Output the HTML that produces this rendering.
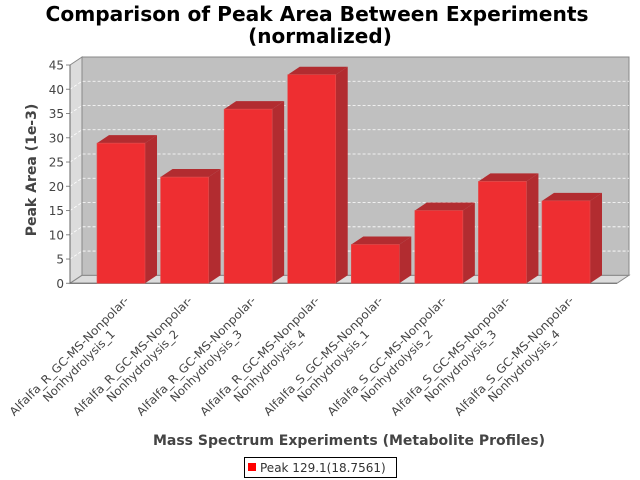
<!DOCTYPE html>
<html><head><meta charset="utf-8"><style>
html,body{margin:0;padding:0;background:#fff}
svg{display:block}
text{font-family:"DejaVu Sans","Liberation Sans",sans-serif}
</style></head><body>
<svg id="chart" width="640" height="480" viewBox="0 0 640 480" xmlns="http://www.w3.org/2000/svg">
<text x="317" y="21" text-anchor="middle" font-weight="bold" font-size="20" textLength="543" lengthAdjust="spacingAndGlyphs" fill="#000">Comparison of Peak Area Between Experiments</text>
<text x="320" y="43" text-anchor="middle" font-weight="bold" font-size="20" fill="#000">(normalized)</text>
<g id="plot"></g>
<text transform="translate(36,170) rotate(-90)" text-anchor="middle" font-weight="bold" font-size="14" fill="#444">Peak Area (1e-3)</text>
<text x="349" y="445" text-anchor="middle" font-weight="bold" font-size="14" fill="#444">Mass Spectrum Experiments (Metabolite Profiles)</text>
<g>
<rect x="244.5" y="457.5" width="152" height="20" fill="#fff" stroke="#000"/>
<rect x="248" y="463" width="8" height="8" fill="#ff0000"/>
<text x="260" y="472" font-size="12" fill="#333">Peak 129.1(18.7561)</text>
</g>
</svg>
<script>
const categoriesLine1 = ["Alfalfa_R_GC-MS-Nonpolar-","Alfalfa_R_GC-MS-Nonpolar-","Alfalfa_R_GC-MS-Nonpolar-","Alfalfa_R_GC-MS-Nonpolar-","Alfalfa_S_GC-MS-Nonpolar-","Alfalfa_S_GC-MS-Nonpolar-","Alfalfa_S_GC-MS-Nonpolar-","Alfalfa_S_GC-MS-Nonpolar-"];
const categoriesLine2 = ["Nonhydrolysis_1","Nonhydrolysis_2","Nonhydrolysis_3","Nonhydrolysis_4","Nonhydrolysis_1","Nonhydrolysis_2","Nonhydrolysis_3","Nonhydrolysis_4"];
const peakValues = [28.9, 21.9, 35.9, 43.0, 8.0, 15.0, 21.0, 17.0];
const yTicks = [0,5,10,15,20,25,30,35,40,45];

const NS="http://www.w3.org/2000/svg";
const plot=document.getElementById('plot');
function mk(tag,attrs,parent){const e=document.createElementNS(NS,tag);for(const k in attrs)e.setAttribute(k,attrs[k]);(parent||plot).appendChild(e);return e;}
const X0=70,X1=617,Y0=283.3,YMAX=45,PXU=(283.3-65)/45,DX=12,DY=-8;
function y(v){return Y0-v*PXU;}
const n=categoriesLine1.length, M=27, bw=48;
const step=(X1-X0-2*M-bw)/(n-1);
function xc(i){return X0+M+bw/2+step*i;}

let w=mk('polygon',{points:`${X0},${y(YMAX)} ${X0+DX},${y(YMAX)+DY} ${X0+DX},${Y0+DY} ${X0},${Y0}`,fill:'#dcdcdc',stroke:'#888','stroke-width':1});


let fl=mk('polygon',{points:`${X0},${Y0} ${X0+DX},${Y0+DY} ${X1+DX},${Y0+DY} ${X1},${Y0}`,fill:'#dcdcdc',stroke:'#888','stroke-width':1});


let bk=mk('rect',{x:X0+DX,y:y(YMAX)+DY,width:X1-X0,height:YMAX*PXU,fill:'#c0c0c0',stroke:'#888','stroke-width':1});


yTicks.forEach(t=>{
  if(t>0&&t<YMAX){
    const g=mk('polyline',{points:`${X0},${y(t)} ${X0+DX},${y(t)+DY} ${X1+DX},${y(t)+DY}`,fill:'none',stroke:'#fff','stroke-width':0.8,'stroke-dasharray':'3,2'});
    
    
  }
  const tk=mk('line',{x1:X0-4,y1:y(t),x2:X0,y2:y(t),stroke:'#888'});
  
  
  const tl=mk('text',{x:X0-6,y:y(t)+4.5,'text-anchor':'end','font-size':12,fill:'#444'});
  tl.textContent=t;
  
  
});
let ax=mk('line',{x1:X0,y1:y(YMAX),x2:X0,y2:Y0,stroke:'#666'});


let ax2=mk('line',{x1:X0,y1:Y0,x2:X1,y2:Y0,stroke:'#666'});



peakValues.forEach((v,i)=>{
  const l=xc(i)-bw/2, r=l+bw, t=y(v);
  const g=mk('g',{});
  
  
  mk('polygon',{points:`${l},${t} ${l+DX},${t+DY} ${r+DX},${t+DY} ${r},${t}`,fill:'#b22c30'},g);
  mk('polygon',{points:`${r},${t} ${r+DX},${t+DY} ${r+DX},${Y0+DY} ${r},${Y0}`,fill:'#b22c30'},g);
  mk('rect',{x:l,y:t,width:bw,height:Y0-t,fill:'#ee2e31',stroke:'#e05050','stroke-width':0.6},g);
  const lg=mk('g',{transform:`translate(${xc(i)+6},298) rotate(-45)`});
  
  
  const t1=mk('text',{x:-82,y:4,'text-anchor':'middle','font-size':11.5,fill:'#444',textLength:163,lengthAdjust:'spacingAndGlyphs'},lg);
  t1.textContent=categoriesLine1[i];
  const t2=mk('text',{x:-82,y:18,'text-anchor':'middle','font-size':11.5,fill:'#444',textLength:96,lengthAdjust:'spacingAndGlyphs'},lg);
  t2.textContent=categoriesLine2[i];
});
</script>
</body></html>
